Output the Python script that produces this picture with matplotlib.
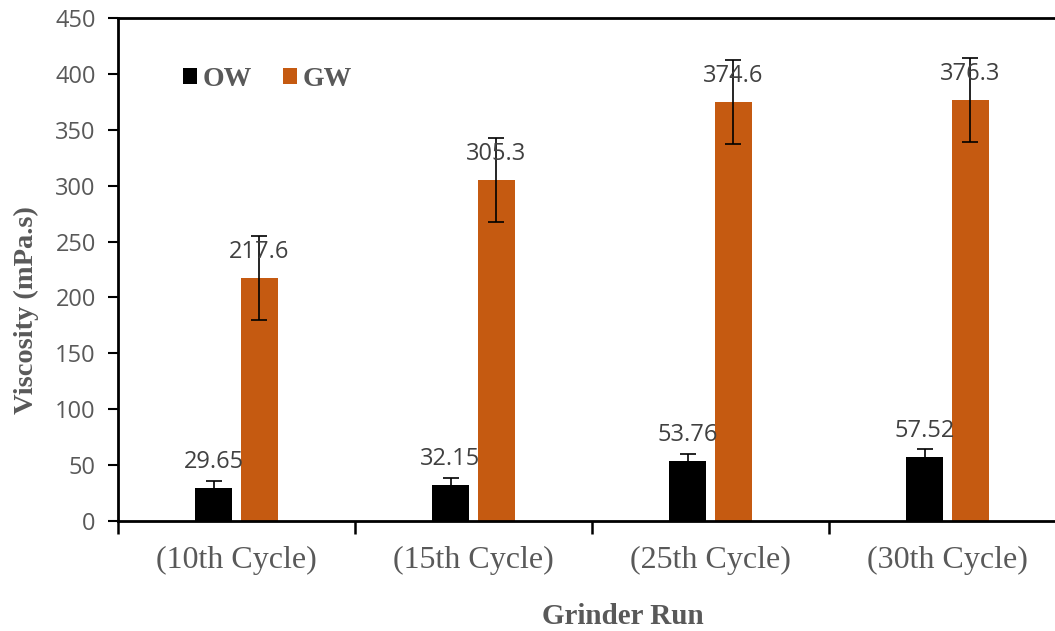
import matplotlib
matplotlib.use("Agg")
import matplotlib.pyplot as plt
import numpy as np

categories = ["(10th Cycle)", "(15th Cycle)", "(25th Cycle)", "(30th Cycle)"]
ow_values = [29.65, 32.15, 53.76, 57.52]
gw_values = [217.6, 305.3, 374.6, 376.3]
ow_err = [6.5, 6.5, 6.5, 6.5]
gw_err = [37.5, 37.5, 37.5, 37.5]
ow_labels = ["29.65", "32.15", "53.76", "57.52"]
gw_labels = ["217.6", "305.3", "374.6", "376.3"]

W, H = 1055, 631
fig = plt.figure(figsize=(W / 100, H / 100), dpi=100)
ax = fig.add_axes([118 / W, 1 - 521 / H, (1066 - 118) / W, (521 - 18) / H])

x = np.arange(len(categories))
bw = 0.16
off = 0.097
ow_col = "#000000"
gw_col = "#C55A11"
ax.bar(x - off, ow_values, bw, color=ow_col, yerr=ow_err,
       error_kw=dict(ecolor="black", elinewidth=1.2, capsize=6, capthick=1.2), label="OW", zorder=2)
ax.bar(x + off, gw_values, bw, color=gw_col, yerr=gw_err,
       error_kw=dict(ecolor="black", elinewidth=1.2, capsize=6, capthick=1.2), label="GW", zorder=2)

for xi, v, t in zip(x - off, ow_values, ow_labels):
    ax.annotate(t, (xi, v), xytext=(0, 26), textcoords="offset pixels", family="Open Sans",
                ha="center", va="center", fontsize=17, color="#404040", zorder=4)
for xi, v, t in zip(x + off, gw_values, gw_labels):
    ax.annotate(t, (xi, v), xytext=(0, 26), textcoords="offset pixels", family="Open Sans",
                ha="center", va="center", fontsize=17, color="#404040", zorder=4)

ax.set_xlim(-0.5, 3.5)
ax.set_ylim(0, 450)
ax.set_yticks(np.arange(0, 451, 50))
ax.tick_params(axis="y", direction="out", length=7, width=1.5, labelsize=17,
               labelcolor="#595959", pad=9)
for lab in ax.get_yticklabels():
    lab.set_family("Open Sans")
ax.set_xticks([-0.5, 0.5, 1.5, 2.5])
ax.set_xticklabels([])
ax.tick_params(axis="x", which="major", direction="out", length=9, width=1.8)
ax.set_xticks(x, minor=True)
ax.set_xticklabels(categories, minor=True, family="Liberation Serif", fontsize=23,
                   color="#595959")
ax.tick_params(axis="x", which="minor", length=0, pad=18)

for s in ["left", "bottom", "top"]:
    ax.spines[s].set_linewidth(2)
    ax.spines[s].set_color("black")
ax.spines["right"].set_visible(False)

fig.text(26 / W, 1 - 310 / H, "Viscosity (mPa.s)", family="Liberation Serif", fontweight="bold",
         fontsize=20.5, color="#595959", ha="center", va="center", rotation=90)
fig.text(623 / W, 1 - 617 / H, "Grinder Run", family="Liberation Serif", fontweight="bold",
         fontsize=21, color="#595959", ha="center", va="center")

leg = fig.legend(*ax.get_legend_handles_labels(), loc="center left",
                 bbox_to_anchor=(183 / W, 1 - 79.5 / H), ncol=2, frameon=False,
                 prop=dict(family="Liberation Serif", weight="bold", size=20),
                 handlelength=0.5, handleheight=0.5, handletextpad=0.22, columnspacing=1.1,
                 borderpad=0, borderaxespad=0, labelcolor="#595959")

fig.savefig("out.png", dpi=100)
